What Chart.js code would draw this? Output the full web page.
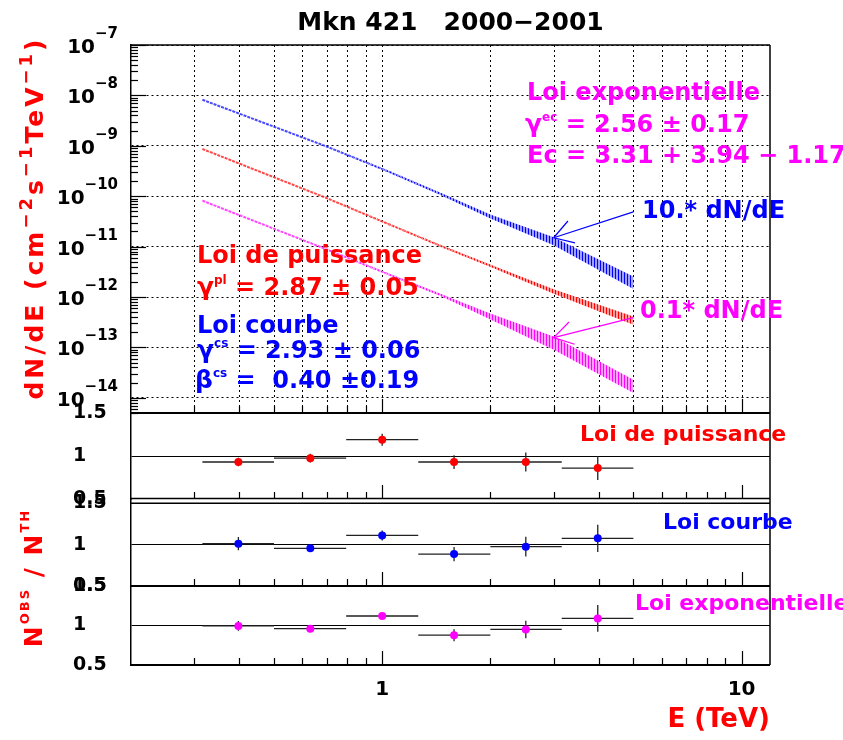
<!DOCTYPE html>
<html><head><meta charset="utf-8">
<script src="https://cdn.jsdelivr.net/npm/chart.js@4.4.0/dist/chart.umd.min.js"></script>
<style>html,body{margin:0;padding:0;background:#fff;}canvas{display:block;}</style>
</head><body>
<canvas id="c" width="843" height="740"></canvas>
<script>
// ----------------- data -----------------
const energyTeV       = [0.316, 0.7, 1.04, 1.45, 2.0, 3.0, 5.0];
// Loi courbe (x10)
const fluxCurved10    = [8.2e-9, 9.7e-10, 3.1e-10, 1.12e-10, 3.97e-11, 1.27e-11, 1.92e-12];
const fluxCurved10Hi  = [8.2e-9, 9.7e-10, 3.17e-10, 1.17e-10, 4.35e-11, 1.53e-11, 2.56e-12];
const fluxCurved10Lo  = [8.2e-9, 9.7e-10, 3.03e-10, 1.07e-10, 3.62e-11, 1.06e-11, 1.44e-12];
// Loi de puissance
const fluxPower       = [8.65e-10, 9.2e-11, 2.81e-11, 1.04e-11, 4.18e-12, 1.29e-12, 3.39e-13];
const fluxPowerHi     = [8.65e-10, 9.2e-11, 2.83e-11, 1.06e-11, 4.38e-12, 1.43e-12, 4.12e-13];
const fluxPowerLo     = [8.65e-10, 9.2e-11, 2.79e-11, 1.02e-11, 3.99e-12, 1.16e-12, 2.82e-13];
// Loi exponentielle (x0.1)
const fluxExp01       = [8.15e-11, 8.83e-12, 2.83e-12, 1.11e-12, 4.12e-13, 1.22e-13, 1.68e-14];
const fluxExp01Hi     = [8.15e-11, 8.83e-12, 2.88e-12, 1.16e-12, 4.73e-13, 1.65e-13, 2.29e-14];
const fluxExp01Lo     = [8.15e-11, 8.83e-12, 2.78e-12, 1.06e-12, 3.59e-13, 9.0e-14, 1.24e-14];

// residual bins
const binLow    = [0.316, 0.5, 0.794, 1.26, 2.0, 3.16];
const binHigh   = [0.5, 0.794, 1.26, 2.0, 3.16, 5.0];
const binCenter = [0.398, 0.631, 1.0, 1.585, 2.51, 3.98];
const ratioPower = [0.93, 0.975, 1.19, 0.93, 0.93, 0.86];
const errPower   = [0.05, 0.05, 0.07, 0.08, 0.11, 0.14];
const ratioCurved = [1.01, 0.955, 1.11, 0.885, 0.975, 1.075];
const errCurved   = [0.08, 0.04, 0.06, 0.085, 0.12, 0.165];
const ratioExp    = [0.995, 0.96, 1.12, 0.877, 0.95, 1.09];
const errExp      = [0.063, 0.04, 0.04, 0.076, 0.11, 0.17];

// ticks
const xTicks = [1, 10];
const xTickLabels = ['1', '10'];
const yDecades = [1e-7, 1e-8, 1e-9, 1e-10, 1e-11, 1e-12, 1e-13, 1e-14];
const yExponents = ['\u22127', '\u22128', '\u22129', '\u221210', '\u221211', '\u221212', '\u221213', '\u221214'];
const ratioTicks = [0.5, 1, 1.5];
const ratioTickLabels = ['0.5', '1', '1.5'];

// arrows (data coordinates: [E, flux])
const arrowBlueFrom = [5.0, 4.9e-11], arrowBlueTo = [3.0, 1.5e-11];
const arrowMagFrom  = [5.0, 3.9e-13], arrowMagTo  = [3.0, 1.56e-13];

// ----------------- styling -----------------
const FAM = "'DejaVu Sans', 'Liberation Sans', sans-serif";
const RED = '#ff0000', BLUE = '#0000ff', MAG = '#ff00ff';
const canvas = document.getElementById('c');
const ctx0 = canvas.getContext('2d');

function hatch(dark, light) {
  const c = document.createElement('canvas'); c.width = 3; c.height = 4;
  const g = c.getContext('2d');
  g.fillStyle = light; g.fillRect(0, 0, 3, 4);
  g.fillStyle = dark; g.fillRect(0, 0, 1, 4);
  return ctx0.createPattern(c, 'repeat');
}
function pts(ys) { return energyTeV.map((e, i) => ({x: e, y: ys[i]})); }
function errSegments(yv, ye) {
  const out = [];
  for (let i = 0; i < binCenter.length; i++) {
    out.push({x: binLow[i], y: yv[i]}, {x: binHigh[i], y: yv[i]}, {x: binCenter[i], y: null});
    out.push({x: binCenter[i], y: yv[i] - ye[i]}, {x: binCenter[i], y: yv[i] + ye[i]}, {x: binCenter[i], y: null});
  }
  return out;
}
function markers(yv) { return binCenter.map((e, i) => ({x: e, y: yv[i]})); }

function band(hi, lo, dark, light) {
  return [
    {data: pts(hi), yAxisID: 'yMain', fill: '+1', backgroundColor: hatch(dark, light), borderWidth: 0, pointRadius: 0},
    {data: pts(lo), yAxisID: 'yMain', fill: false, borderWidth: 0, pointRadius: 0}
  ];
}
function curve(ys, color) {
  return {data: pts(ys), yAxisID: 'yMain', borderColor: color, borderWidth: 2, borderDash: [3, 1], pointRadius: 0, fill: false, tension: 0};
}
function errDs(yv, ye, axis) {
  return {data: errSegments(yv, ye), yAxisID: axis, borderColor: '#222', borderWidth: 1.3, pointRadius: 0, spanGaps: false, fill: false};
}
function markDs(yv, axis, color) {
  return {data: markers(yv), yAxisID: axis, showLine: false, pointRadius: 4, pointStyle: 'circle', pointBackgroundColor: color, pointBorderColor: color, pointBorderWidth: 0};
}

// earlier datasets are drawn on top
const datasets = [
  markDs(ratioPower, 'yR1', RED), markDs(ratioCurved, 'yR2', BLUE), markDs(ratioExp, 'yR3', MAG),
  errDs(ratioPower, errPower, 'yR1'), errDs(ratioCurved, errCurved, 'yR2'), errDs(ratioExp, errExp, 'yR3'),
  ...band(fluxCurved10Hi, fluxCurved10Lo, '#0000ff', '#a0a0ff'),
  ...band(fluxPowerHi, fluxPowerLo, '#ff0000', '#ffa0a0'),
  ...band(fluxExp01Hi, fluxExp01Lo, '#ff00ff', '#ffa0ff'),
  curve(fluxCurved10, 'rgba(40,40,255,0.85)'),
  curve(fluxPower, 'rgba(255,40,40,0.85)'),
  curve(fluxExp01, 'rgba(255,40,255,0.85)')
];

// ----------------- helpers for text -----------------
function rich(ctx, parts, x, y, align, color, spacing) {
  ctx.save();
  ctx.fillStyle = color;
  ctx.textBaseline = 'alphabetic';
  ctx.textAlign = 'left';
  if (spacing) ctx.letterSpacing = spacing;
  let w = 0;
  const ws = parts.map(p => { ctx.font = 'bold ' + p[1] + 'px ' + FAM; const m = ctx.measureText(p[0]).width; w += m; return m; });
  let cx = align === 'right' ? x - w : (align === 'center' ? x - w / 2 : x);
  parts.forEach((p, i) => { ctx.font = 'bold ' + p[1] + 'px ' + FAM; ctx.fillText(p[0], cx, y + (p[2] || 0)); cx += ws[i]; });
  ctx.restore();
}
function line(ctx, x1, y1, x2, y2, w, color) {
  ctx.save(); ctx.strokeStyle = color || '#000'; ctx.lineWidth = w;
  ctx.beginPath(); ctx.moveTo(x1, y1); ctx.lineTo(x2, y2); ctx.stroke(); ctx.restore();
}
function arrow(ctx, chart, from, to, color) {
  const x = chart.scales.x, y = chart.scales.yMain;
  const x1 = x.getPixelForValue(from[0]), y1 = y.getPixelForValue(from[1]);
  const x2 = x.getPixelForValue(to[0]), y2 = y.getPixelForValue(to[1]);
  line(ctx, x1, y1, x2, y2, 1.2, color);
  const a = Math.atan2(y1 - y2, x1 - x2), L = 22, s = 0.55;
  line(ctx, x2, y2, x2 + L * Math.cos(a - s), y2 + L * Math.sin(a - s), 1.2, color);
  line(ctx, x2, y2, x2 + L * Math.cos(a + s), y2 + L * Math.sin(a + s), 1.2, color);
}

// axis decorations (grid values / tick marks)
const xMinor = [], yMinor = [];
[0.1, 1, 10].forEach(d => { for (let k = 1; k <= 9; k++) { const v = +(k * d).toPrecision(3); if (v > 0.2 && v < 12) xMinor.push(v); } });
for (let e = -15; e <= -8; e++) { for (let k = 2; k <= 9; k++) { const v = k * Math.pow(10, e); if (v > 5e-15 && v < 1e-7) yMinor.push(v); } }

const decor = {
  id: 'decor',
  beforeDatasetsDraw(chart) {
    const {ctx} = chart, x = chart.scales.x, ym = chart.scales.yMain;
    ctx.save();
    ctx.strokeStyle = '#000'; ctx.lineWidth = 1; ctx.setLineDash([2, 3]);
    xMinor.forEach(v => {
      const px = Math.round(x.getPixelForValue(v)) + 0.5;
      ctx.beginPath(); ctx.moveTo(px, ym.top); ctx.lineTo(px, ym.bottom); ctx.stroke();
    });
    ctx.restore();
  },
  afterDatasetsDraw(chart) {
    const {ctx, chartArea: ca} = chart;
    const x = chart.scales.x, ym = chart.scales.yMain, r1 = chart.scales.yR1, r2 = chart.scales.yR2, r3 = chart.scales.yR3;
    // frame
    line(ctx, ca.left, ca.top, ca.right, ca.top, 1.5);
    line(ctx, ca.right, ca.top, ca.right, ca.bottom, 1.5);
    line(ctx, ca.left, ym.bottom, ca.right, ym.bottom, 2.2);
    line(ctx, ca.left, r1.bottom - 0.5, ca.right, r1.bottom - 0.5, 1.5);
    const r2top = r2.getPixelForValue(1.5);
    line(ctx, ca.left, r2top, ca.right, r2top, 1.5);
    line(ctx, ca.left, r3.top, ca.right, r3.top, 2);
    line(ctx, ca.left, ca.bottom, ca.right, ca.bottom, 2);
    // x tick marks at bottom of each panel (inward)
    [ym.bottom, r1.bottom, r2.bottom, r3.bottom].forEach(b => {
      xMinor.forEach(v => {
        const px = Math.round(x.getPixelForValue(v)) + 0.5;
        const len = xTicks.includes(v) ? 14 : 7;
        line(ctx, px, b, px, b - len, 1.2);
      });
    });
    // y tick marks main (inward)
    yDecades.forEach(v => { const py = Math.round(ym.getPixelForValue(v)) + 0.5; line(ctx, ca.left, py, ca.left + 15, py, 1.2); });
    yMinor.forEach(v => { const py = Math.round(ym.getPixelForValue(v)) + 0.5; line(ctx, ca.left, py, ca.left + 7, py, 1.2); });
    // main y labels 10^n
    yDecades.forEach((v, i) => {
      const py = ym.getPixelForValue(v);
      rich(ctx, [['10', 20, 8], [yExponents[i], 15, -7]], 118, py, 'right', '#000');
    });
    // annotations (main panel)
    rich(ctx, [['Loi exponentielle', 24]], 527, 100, 'left', MAG);
    rich(ctx, [['\u03b3', 25], ['ec', 12, -11], [' = 2.56 \u00b1 0.17', 24]], 525, 132, 'left', MAG);
    rich(ctx, [['Ec = 3.31 + 3.94 \u2212 1.17', 24]], 527, 163, 'left', MAG);
    rich(ctx, [['10.* dN/dE', 24]], 642, 218, 'left', BLUE);
    rich(ctx, [['0.1* dN/dE', 24]], 640, 318, 'left', MAG);
    rich(ctx, [['Loi de puissance', 24]], 197, 263, 'left', RED);
    rich(ctx, [['\u03b3', 25], ['pl', 12, -11], [' = 2.87 \u00b1 0.05', 24]], 197, 295, 'left', RED);
    rich(ctx, [['Loi courbe', 24]], 197, 333, 'left', BLUE);
    rich(ctx, [['\u03b3', 25], ['cs', 12, -11], [' = 2.93 \u00b1 0.06', 24]], 197, 358, 'left', BLUE);
    rich(ctx, [['\u03b2', 25], ['cs', 12, -11], [' =  0.40 \u00b10.19', 24]], 195, 388, 'left', BLUE);
    arrow(ctx, chart, arrowBlueFrom, arrowBlueTo, BLUE);
    arrow(ctx, chart, arrowMagFrom, arrowMagTo, MAG);
    // residual panel labels
    rich(ctx, [['Loi de puissance', 22]], 580, 441, 'left', RED);
    rich(ctx, [['Loi courbe', 22]], 663, 529, 'left', BLUE);
    rich(ctx, [['Loi exponentielle', 22]], 635, 610, 'left', MAG);
    // rotated y titles
    ctx.save(); ctx.translate(43, 218); ctx.rotate(-Math.PI / 2);
    rich(ctx, [['dN/dE (cm', 25], ['\u22122', 18, -11], ['s', 25], ['\u22121', 18, -11], ['TeV', 25], ['\u22121', 18, -11], [')', 25]], 0, 0, 'center', RED, '3px');
    ctx.restore();
    ctx.save(); ctx.translate(42, 578); ctx.rotate(-Math.PI / 2);
    rich(ctx, [['N', 25], ['OBS', 13, -13], [' / ', 25], ['N', 25], ['TH', 13, -13]], 0, 0, 'center', RED, '2px');
    ctx.restore();
  }
};

function ratioAxis(weight, max) {
  return {
    type: 'linear', position: 'left', stack: 'v', stackWeight: weight, min: 0.5, max: max,
    afterBuildTicks: s => { s.ticks = ratioTicks.map(v => ({value: v})); },
    afterFit: s => { s.width = 58; },
    grid: {drawTicks: false, lineWidth: 1, color: c => (c.tick && c.tick.value === 1) ? '#000' : 'rgba(0,0,0,0)'},
    border: {display: true, color: '#000', width: 1.5},
    ticks: {autoSkip: false, crossAlign: 'far', color: '#000', font: {family: FAM, size: 19, weight: 'bold'},
      callback: v => ratioTickLabels[ratioTicks.indexOf(v)]}
  };
}

// stacked vertical axes: the last declared is placed on top
new Chart(canvas, {
  type: 'line',
  data: {datasets},
  options: {
    responsive: false, animation: false,
    layout: {padding: {left: 73, right: 73, top: 0, bottom: 0}},
    plugins: {
      legend: {display: false}, tooltip: {enabled: false},
      title: {display: true, fullSize: false, text: 'Mkn 421   2000\u22122001', color: '#000',
        font: {family: FAM, size: 25, weight: 'bold', lineHeight: 1.2}, padding: {top: 8, bottom: 7}}
    },
    scales: {
      x: {
        type: 'logarithmic', position: 'bottom', min: 0.2, max: 12,
        afterBuildTicks: s => { s.ticks = xTicks.map(v => ({value: v})); },
        afterFit: s => { s.height = 75; },
        grid: {display: false, drawTicks: false}, border: {display: false},
        ticks: {autoSkip: false, maxRotation: 0, padding: 13, color: '#000', font: {family: FAM, size: 20, weight: 'bold'},
          callback: v => xTickLabels[xTicks.indexOf(v)]},
        title: {display: true, text: 'E (TeV)', align: 'end', color: RED, font: {family: FAM, size: 26, weight: 'bold', lineHeight: 1.2}, padding: {top: 0, bottom: 4}}
      },
      yR3: ratioAxis(79, 1.5),
      yR2: ratioAxis(87, 1.55),
      yR1: ratioAxis(86, 1.5),
      yMain: {
        type: 'logarithmic', position: 'left', stack: 'v', stackWeight: 368, min: 5e-15, max: 1e-7,
        afterBuildTicks: s => { s.ticks = yDecades.map(v => ({value: v})); },
        afterFit: s => { s.width = 58; },
        grid: {drawTicks: false, lineWidth: 1, color: '#000'},
        border: {display: true, color: '#000', width: 1.5, dash: [2, 3]},
        ticks: {display: false}
      }
    }
  },
  plugins: [decor]
});
</script>
</body></html>
